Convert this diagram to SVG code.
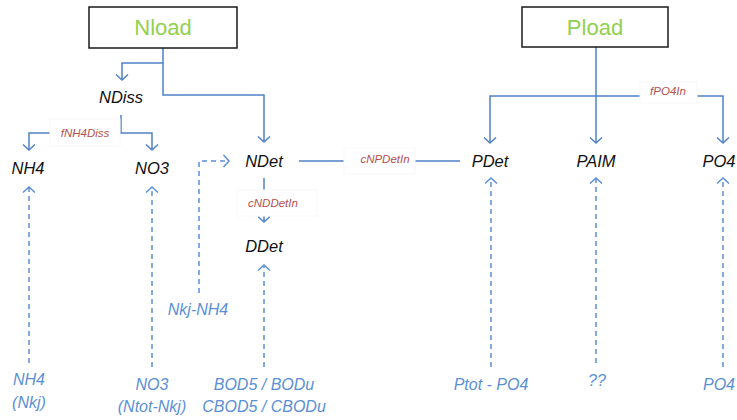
<svg xmlns="http://www.w3.org/2000/svg" width="737" height="420" viewBox="0 0 737 420">
<style>
.bg{fill:#ffffff}
.box{fill:#ffffff;stroke:#1a1a1a;stroke-width:1.5}
.load{font-family:"Liberation Sans",Arial,sans-serif;font-size:22px;fill:#92d050;text-anchor:middle}
.node{font-family:"Liberation Sans",Arial,sans-serif;font-size:16.5px;font-style:italic;fill:#111111;text-anchor:middle}
.src{font-family:"Liberation Sans",Arial,sans-serif;font-size:16px;font-style:italic;fill:#5b8fd6;text-anchor:middle}
.lbl{font-family:"Liberation Sans",Arial,sans-serif;font-size:11.5px;font-style:italic;fill:#b5504c;text-anchor:middle}
.lblbox{fill:#ffffff;stroke:#f7f7f7;stroke-width:1}
.solid{fill:none;stroke:#4f81c7;stroke-width:1.5}
.dash{fill:none;stroke:#5b8fd6;stroke-width:1.5;stroke-dasharray:5 4}
</style>
<defs>
<marker id="arr" markerUnits="userSpaceOnUse" markerWidth="14" markerHeight="14" refX="7" refY="7" orient="auto" viewBox="0 0 14 14">
<path d="M1.5,1 L7,7 L1.5,13" fill="none" stroke="#4f81c7" stroke-width="1.5"/>
</marker>
<marker id="arrd" markerUnits="userSpaceOnUse" markerWidth="14" markerHeight="14" refX="7" refY="7" orient="auto" viewBox="0 0 14 14">
<path d="M1.5,1 L7,7 L1.5,13" fill="none" stroke="#5b8fd6" stroke-width="1.5"/>
</marker>
</defs>
<rect class="bg" x="0" y="0" width="737" height="420"/>

<g id="connectors">
<path class="solid" d="M163,48 V63 H122 V80" marker-end="url(#arr)"/>
<path class="solid" d="M163,63 V95 H264 V142" marker-end="url(#arr)"/>
<path class="solid" d="M121,115 V133 H152 V150" marker-end="url(#arr)"/>
<path class="solid" d="M121,133 H29 V150" marker-end="url(#arr)"/>
<path class="solid" d="M299,161 H460"/>
<path class="solid" d="M264,178 V222" marker-end="url(#arr)"/>
<path class="solid" d="M596,47 V143" marker-end="url(#arr)"/>
<path class="solid" d="M596,96 H490 V143" marker-end="url(#arr)"/>
<path class="solid" d="M596,96 H723 V143" marker-end="url(#arr)"/>
<path class="dash" d="M199,293 V161 H229" marker-end="url(#arrd)"/>
<path class="dash" d="M29,363 V187" marker-end="url(#arrd)"/>
<path class="dash" d="M152,367 V187" marker-end="url(#arrd)"/>
<path class="dash" d="M264,367 V265" marker-end="url(#arrd)"/>
<path class="dash" d="M491,367 V178" marker-end="url(#arrd)"/>
<path class="dash" d="M596,363 V178" marker-end="url(#arrd)"/>
<path class="dash" d="M723,367 V178" marker-end="url(#arrd)"/>
<g id="edge-labels">
<rect class="lblbox" x="50" y="119" width="70" height="27"/>
<text class="lbl" x="85" y="137">fNH4Diss</text>
<rect class="lblbox" x="344" y="148" width="71" height="26"/>
<text class="lbl" x="385" y="163">cNPDetIn</text>
<rect class="lblbox" x="237" y="190" width="80" height="26"/>
<text class="lbl" x="273" y="207">cNDDetIn</text>
<rect class="lblbox" x="640" y="82" width="57" height="21"/>
<text class="lbl" x="668" y="95">fPO4In</text>
</g>
</g>

<g id="Nload"><rect class="box" x="89" y="7" width="148" height="41"/><text class="load" x="163" y="35">Nload</text></g>
<g id="Pload"><rect class="box" x="522" y="7" width="146" height="40"/><text class="load" x="595" y="35">Pload</text></g>
<g id="NDiss"><text class="node" x="121" y="103">NDiss</text></g>
<g id="NH4"><text class="node" x="28" y="174">NH4</text></g>
<g id="NO3"><text class="node" x="152" y="174">NO3</text></g>
<g id="NDet"><text class="node" x="264" y="167">NDet</text></g>
<g id="DDet"><text class="node" x="264" y="252">DDet</text></g>
<g id="PDet"><text class="node" x="490" y="167">PDet</text></g>
<g id="PAIM"><text class="node" x="596" y="167">PAIM</text></g>
<g id="PO4"><text class="node" x="719" y="167">PO4</text></g>

<g id="src-NkjNH4"><text class="src" x="198" y="315">Nkj-NH4</text></g>
<g id="src-NH4"><text class="src" x="29" y="385">NH4</text><text class="src" x="29" y="408">(Nkj)</text></g>
<g id="src-NO3"><text class="src" x="152" y="390">NO3</text><text class="src" x="152" y="412">(Ntot-Nkj)</text></g>
<g id="src-BOD"><text class="src" x="264" y="390">BOD5 / BODu</text><text class="src" x="264" y="412">CBOD5 / CBODu</text></g>
<g id="src-Ptot"><text class="src" x="491" y="390">Ptot - PO4</text></g>
<g id="src-PAIM"><text class="src" x="597" y="386">??</text></g>
<g id="src-PO4"><text class="src" x="719" y="390">PO4</text></g>
</svg>
